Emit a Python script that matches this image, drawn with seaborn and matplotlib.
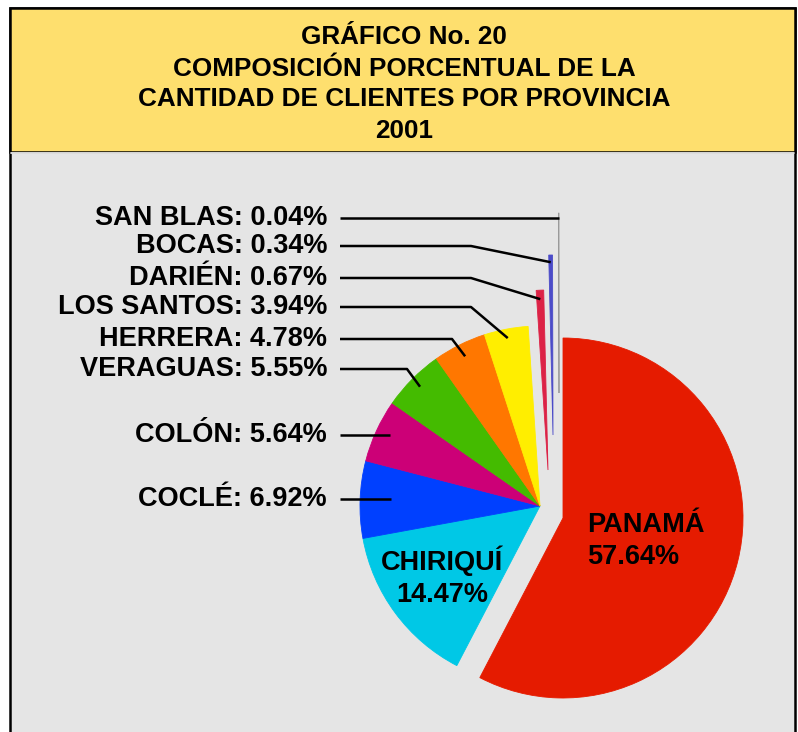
import numpy as np
import matplotlib
matplotlib.use("Agg")
import matplotlib.pyplot as plt
import seaborn as sns
from matplotlib.patches import Rectangle

# ---------------- data ----------------
provinces = ["PANAMÁ", "CHIRIQUÍ", "COCLÉ", "COLÓN", "VERAGUAS",
             "HERRERA", "LOS SANTOS", "DARIÉN", "BOCAS", "SAN BLAS"]
shares = [57.64, 14.47, 6.92, 5.64, 5.55, 4.78, 3.94, 0.67, 0.34, 0.04]
title_lines = ["GRÁFICO No. 20",
               "COMPOSICIÓN PORCENTUAL DE LA",
               "CANTIDAD DE CLIENTES POR PROVINCIA",
               "2001"]

# ---------------- style / layout ----------------
slice_colors = ["#E51B00", "#00C8E6", "#0040FF", "#CC0077", "#44BB00",
                "#FF7700", "#FFEE00", "#DC2246", "#4B4BC8", "#9A9A9A"]
# per-slice displacement (pixels, right / down)
slice_shift = [(23, 12), (0, 0), (0, 0), (0, 0), (0, 0),
               (0, 0), (0, 0), (8, -36), (13, -71), (19, -113)]
PIE_CENTER = (540, 506)
PIE_R = 180
W, H = 798, 732

# outside labels: slice index, label y, elbow x (None = straight), reach
outside = [(9, 218, None, 0.97),
           (8, 246, 471, 0.96),
           (7, 278, 471, 0.95),
           (6, 307, 471, 0.95),
           (5, 339, 452, 0.93),
           (4, 369, 407, 0.94),
           (3, 435, None, 0.92),
           (2, 499, None, 0.83)]
LABEL_RIGHT = 327
LINE_START = 340

sns.set_style("white")
plt.rcParams["font.family"] = ["Liberation Sans", "DejaVu Sans"]

fig = plt.figure(figsize=(W / 100, H / 100), dpi=100)
fig.patch.set_facecolor("white")
ax = fig.add_axes([0, 0, 1, 1])

palette = sns.color_palette(slice_colors)
wedges, _ = ax.pie(shares, colors=palette, startangle=270, counterclock=True,
                   center=PIE_CENTER, radius=PIE_R,
                   wedgeprops=dict(linewidth=0.6))
for w, c, (dx, dy) in zip(wedges, palette, slice_shift):
    w.set_edgecolor(c)
    w.set_zorder(2)
    w.set_center((PIE_CENTER[0] + dx, PIE_CENTER[1] + dy))

ax.set_xlim(0, W)
ax.set_ylim(H, 0)
ax.set_aspect("auto")
ax.axis("off")

# background panels
ax.add_patch(Rectangle((10, 8), 785, 900, facecolor="#E5E5E5",
                       edgecolor="black", linewidth=1.8, zorder=0))
ax.add_patch(Rectangle((10, 8), 785, 144, facecolor="#FEDF6E",
                       edgecolor="black", linewidth=1.8, zorder=0.5))
ax.plot([11, 794], [152.5, 152.5], color="white", lw=1.2, zorder=0.6)

# title
for i, line in enumerate(title_lines):
    ax.text(404, 37.5 + 31 * i, line, ha="center", va="center",
            fontsize=18.8, fontweight="bold", color="black", zorder=5)


def wedge_point(w, frac):
    mid = np.deg2rad((w.theta1 + w.theta2) / 2)
    cx, cy = w.center
    return cx + frac * w.r * np.cos(mid), cy + frac * w.r * np.sin(mid)


# outside labels + leader lines
for idx, ly, ex, frac in outside:
    px, py = wedge_point(wedges[idx], frac)
    ax.text(LABEL_RIGHT, ly, f"{provinces[idx]}: {shares[idx]:.2f}%",
            ha="right", va="center", fontsize=19.5, fontweight="bold",
            color="black", zorder=5)
    if ex is None:
        xs, ys = [LINE_START, px], [ly, ly]
    else:
        xs, ys = [LINE_START, ex, px], [ly, ly, py]
    ax.plot(xs, ys, color="black", lw=1.8, solid_capstyle="butt", zorder=4)

# inside labels
pc = wedges[0].center
ax.text(pc[0] + 0.135 * PIE_R, pc[1] + 0.125 * PIE_R,
        f"{provinces[0]}\n{shares[0]:.2f}%", ha="left", va="center",
        multialignment="left", fontsize=19.5, fontweight="bold",
        linespacing=1.3, color="black", zorder=5)
cc = wedges[1].center
ax.text(cc[0] - 0.545 * PIE_R, cc[1] + 0.395 * PIE_R,
        f"{provinces[1]}\n{shares[1]:.2f}%", ha="center", va="center",
        multialignment="center", fontsize=19.5, fontweight="bold",
        linespacing=1.3, color="black", zorder=5)

fig.savefig("out.png", dpi=100, facecolor=fig.get_facecolor())
